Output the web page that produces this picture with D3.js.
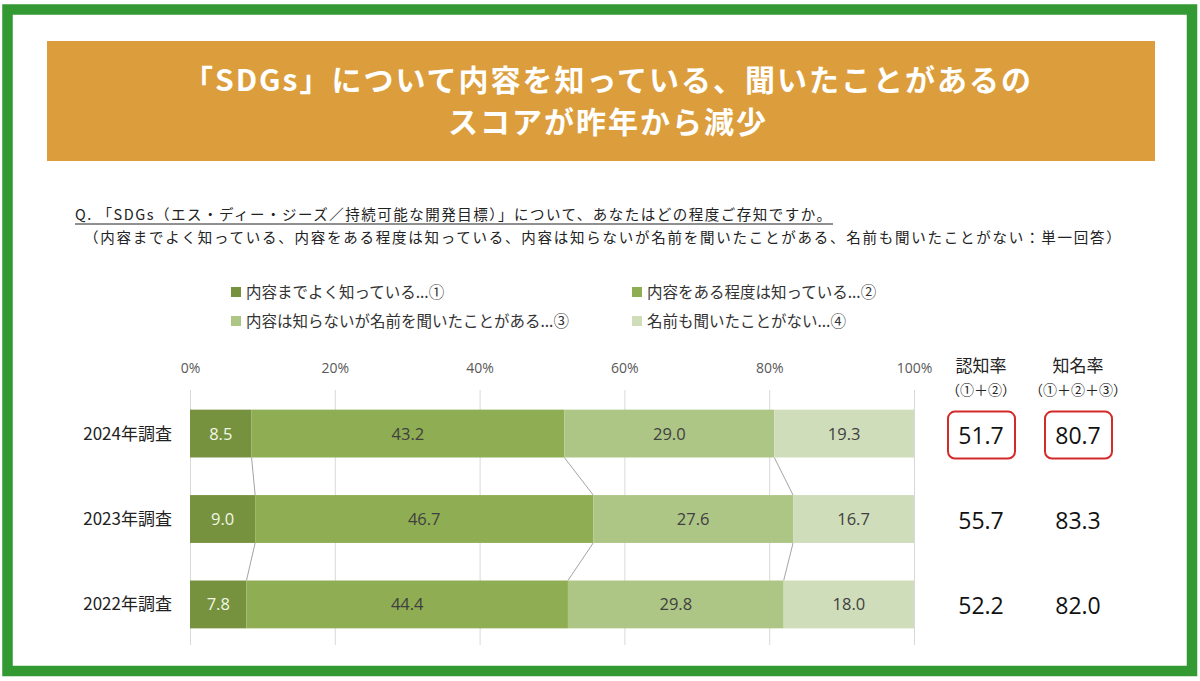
<!DOCTYPE html>
<html>
<head>
<meta charset="utf-8">
<script src="https://cdn.jsdelivr.net/npm/d3@7"></script>
<style>
  body { margin: 0; background: #fff; }
  svg { display: block; font-family: "Noto Sans CJK JP", "Noto Sans", sans-serif; }
</style>
</head>
<body>
<svg width="1200" height="681"></svg>
<script>
// Survey rows, top to bottom
const surveys = ['2024年調査', '2023年調査', '2022年調査']
const knowWell = [8.5, 9.0, 7.8]
const knowSome = [43.2, 46.7, 44.4]
const heardOnly = [29.0, 27.6, 29.8]
const neverHeard = [19.3, 16.7, 18.0]
const awareness = [51.7, 55.7, 52.2]      // ①+②
const recognition = [80.7, 83.3, 82.0]    // ①+②+③
const seriesNames = ['内容までよく知っている...①', '内容をある程度は知っている...②', '内容は知らないが名前を聞いたことがある...③', '名前も聞いたことがない...④']
const tickValues = [0, 20, 40, 60, 80, 100]

const colors = ['#77923f', '#8fad52', '#adc686', '#d0ddba']

const svg = d3.select('svg')

// Green frame
svg.append('rect')
  .attr('x', 7.5).attr('y', 9.5)
  .attr('width', 1184.5).attr('height', 661.5)
  .attr('fill', 'none')
  .attr('stroke', '#339933')
  .attr('stroke-width', 10.5)

// Title banner
svg.append('rect')
  .attr('x', 47).attr('y', 41)
  .attr('width', 1108).attr('height', 120)
  .attr('fill', '#dc9e3c')

const title = svg.append('text')
  .attr('text-anchor', 'middle')
  .attr('fill', '#fff')
  .attr('font-weight', 'bold')
  .attr('font-size', 30)
  .attr('letter-spacing', 2)
title.append('tspan').attr('x', 608).attr('y', 91).text('「SDGs」について内容を知っている、聞いたことがあるの')
title.append('tspan').attr('x', 608).attr('y', 133).text('スコアが昨年から減少')

// Question
svg.append('text')
  .attr('x', 75).attr('y', 220)
  .attr('font-size', 14.5)
  .attr('letter-spacing', 1.5)
  .attr('fill', '#222')
  .text('Q. 「SDGs（エス・ディー・ジーズ／持続可能な開発目標）」について、あなたはどの程度ご存知ですか。')
svg.append('line')
  .attr('x1', 75).attr('x2', 833)
  .attr('y1', 224).attr('y2', 224)
  .attr('stroke', '#222').attr('stroke-width', 1)
svg.append('text')
  .attr('x', 84).attr('y', 243)
  .attr('font-size', 14.5)
  .attr('letter-spacing', 1.75)
  .attr('fill', '#222')
  .text('（内容までよく知っている、内容をある程度は知っている、内容は知らないが名前を聞いたことがある、名前も聞いたことがない：単一回答）')

// Legend
const legendPos = [[231, 293], [632, 293], [231, 322], [632, 322]]
seriesNames.forEach((name, i) => {
  const [lx, ly] = legendPos[i]
  svg.append('rect')
    .attr('x', lx).attr('y', ly - 6)
    .attr('width', 10).attr('height', 10)
    .attr('fill', colors[i])
  svg.append('text')
    .attr('x', lx + 15).attr('y', ly + 5)
    .attr('font-size', 15.5)
    .attr('fill', '#333')
    .text(name)
})

// Scales
const xScale = d3.scaleLinear().domain([0, 100]).range([190, 914])
const yScale = d3.scaleBand()
  .domain(surveys)
  .range([390, 648])
  .paddingInner(0.44)
  .paddingOuter(0.23)

// Grid
svg.append('g')
  .attr('transform', 'translate(0, 390)')
  .call(d3.axisBottom(xScale).tickValues(tickValues).tickSize(255).tickFormat(''))
  .call(g => g.select('.domain').remove())
  .call(g => g.selectAll('line').attr('stroke', '#d9d9d9'))

// Tick labels
svg.append('g')
  .attr('transform', 'translate(0, 376)')
  .call(d3.axisTop(xScale).tickValues(tickValues).tickSize(0).tickFormat(d => d + '%'))
  .call(g => g.select('.domain').remove())
  .call(g => g.selectAll('text')
    .attr('font-size', 14)
    .attr('fill', '#595959')
    .attr('font-family', 'Open Sans, Noto Sans, sans-serif'))

// Stack data
const rows = surveys.map((s, i) => ({ survey: s, v: [knowWell[i], knowSome[i], heardOnly[i], neverHeard[i]] }))
const stackKeys = [0, 1, 2, 3]
const stacked = d3.stack()
  .keys(stackKeys)
  .value((d, k) => d.v[k])(rows)

// Connector lines between bars
const bw = yScale.bandwidth()
for (let k = 0; k < 3; k++) {
  for (let r = 0; r < rows.length - 1; r++) {
    svg.append('line')
      .attr('x1', xScale(stacked[k][r][1]))
      .attr('y1', yScale(surveys[r]) + bw)
      .attr('x2', xScale(stacked[k][r + 1][1]))
      .attr('y2', yScale(surveys[r + 1]))
      .attr('stroke', '#8c8c8c')
      .attr('stroke-width', 0.8)
  }
}

// Bars
const layer = svg.selectAll('g.layer')
  .data(stacked)
  .enter()
  .append('g')
  .attr('class', 'layer')

layer.selectAll('rect')
  .data(d => d)
  .enter()
  .append('rect')
  .attr('x', d => xScale(d[0]))
  .attr('y', d => yScale(d.data.survey))
  .attr('width', d => xScale(d[1]) - xScale(d[0]))
  .attr('height', bw)
  .attr('fill', function () { return colors[d3.select(this.parentNode).datum().key] })

layer.selectAll('text')
  .data(d => d)
  .enter()
  .append('text')
  .attr('x', d => (xScale(d[0]) + xScale(d[1])) / 2)
  .attr('y', d => yScale(d.data.survey) + bw / 2 + 6)
  .attr('text-anchor', 'middle')
  .attr('font-size', 16.5)
  .attr('font-family', 'Open Sans, Noto Sans, sans-serif')
  .attr('fill', function () { return d3.select(this.parentNode).datum().key === 0 ? '#f2f7e6' : '#404040' })
  .text(d => (d[1] - d[0]).toFixed(1))

// Category labels
svg.selectAll('text.cat')
  .data(surveys)
  .enter()
  .append('text')
  .attr('class', 'cat')
  .attr('x', 172)
  .attr('y', d => yScale(d) + bw / 2 + 6)
  .attr('text-anchor', 'end')
  .attr('font-size', 17)
  .attr('fill', '#222')
  .text(d => d)

// Right-hand summary columns
const cols = [
  { head: '認知率', sub: '（①＋②）', x: 981, vals: awareness },
  { head: '知名率', sub: '（①＋②＋③）', x: 1078, vals: recognition }
]
cols.forEach(c => {
  svg.append('text')
    .attr('x', c.x).attr('y', 372)
    .attr('text-anchor', 'middle')
    .attr('font-size', 17)
    .attr('fill', '#222')
    .text(c.head)
  svg.append('text')
    .attr('x', c.x).attr('y', 395)
    .attr('text-anchor', 'middle')
    .attr('font-size', 14)
    .attr('fill', '#222')
    .text(c.sub)
  c.vals.forEach((v, i) => {
    const cy = yScale(surveys[i]) + bw / 2
    if (i === 0) {
      svg.append('rect')
        .attr('x', c.x - 33).attr('y', cy - 22)
        .attr('width', 67).attr('height', 47)
        .attr('rx', 7)
        .attr('fill', 'none')
        .attr('stroke', '#d42a2a')
        .attr('stroke-width', 2)
    }
    svg.append('text')
      .attr('x', c.x).attr('y', cy + 10)
      .attr('text-anchor', 'middle')
      .attr('font-size', 23)
      .attr('font-family', 'Open Sans, Noto Sans, sans-serif')
      .attr('fill', '#111')
      .text(v.toFixed(1))
  })
})
</script>
</body>
</html>
